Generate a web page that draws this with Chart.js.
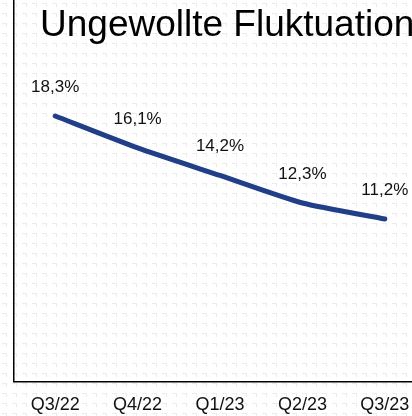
<!DOCTYPE html>
<html lang="de">
<head>
    <meta charset="UTF-8">
    <title>Ungewollte Fluktuation</title>
    <script src="https://cdn.jsdelivr.net/npm/chart.js"></script>
    <style>
        html, body { margin: 0; padding: 0; overflow: hidden; background: #fff; }
        #wrap { width: 440px; height: 416px; }
    </style>
</head>
<body>
    <div id="wrap"><canvas id="grafik"></canvas></div>

    <script>
        var quartale = ['Q3/22', 'Q4/22', 'Q1/23', 'Q2/23', 'Q3/23'];
        var fluktuation = [18.3, 16.1, 14.2, 12.3, 11.2];
        var titel = 'Ungewollte Fluktuation';

        var schrift = "'Liberation Sans', Arial, sans-serif";

        // helles Hintergrundmuster
        function muster() {
            var c = document.createElement('canvas');
            c.width = 10; c.height = 10;
            var g = c.getContext('2d');
            g.fillStyle = '#fff';
            g.fillRect(0, 0, 10, 10);
            g.fillStyle = '#ebebeb';
            g.fillRect(2, 3, 5, 1);
            g.fillRect(6, 3, 1, 4);
            return document.getElementById('grafik').getContext('2d').createPattern(c, 'repeat');
        }

        var hintergrund = {
            id: 'hintergrund',
            beforeDraw: function(chart) {
                var ctx = chart.ctx;
                ctx.save();
                ctx.fillStyle = muster();
                ctx.fillRect(0, 0, chart.width, chart.height);
                ctx.restore();
            },
            afterDraw: function(chart) {
                var ctx = chart.ctx;
                ctx.save();
                ctx.font = '37px ' + schrift;
                ctx.fillStyle = '#000';
                ctx.textAlign = 'left';
                ctx.textBaseline = 'middle';
                ctx.fillText(titel, 40, 26);
                ctx.restore();
            }
        };

        var beschriftung = {
            id: 'beschriftung',
            afterDatasetsDraw: function(chart) {
                var ctx = chart.ctx;
                var meta = chart.getDatasetMeta(0);
                ctx.save();
                ctx.font = '17px ' + schrift;
                ctx.fillStyle = '#111';
                ctx.textAlign = 'center';
                ctx.textBaseline = 'middle';
                meta.data.forEach(function(p, i) {
                    ctx.fillText(fluktuation[i].toFixed(1).replace('.', ',') + '%', p.x, p.y - 29);
                });
                ctx.restore();
            }
        };

        new Chart(document.getElementById('grafik'), {
            type: 'line',
            data: {
                labels: quartale,
                datasets: [{
                    label: titel,
                    data: fluktuation,
                    borderColor: '#213f88',
                    borderWidth: 5,
                    pointRadius: 0,
                    tension: 0.2,
                    borderCapStyle: 'round'
                }]
            },
            options: {
                responsive: true,
                maintainAspectRatio: false,
                animation: false,
                layout: { padding: { left: 14, right: 14, top: 0, bottom: -13 } },
                plugins: {
                    legend: { display: false },
                    tooltip: { enabled: false }
                },
                scales: {
                    x: {
                        offset: true,
                        grid: { display: false, drawTicks: false },
                        border: { display: true, color: '#000', width: 1.5 },
                        ticks: { color: '#111', font: { size: 18, family: schrift }, padding: 13 }
                    },
                    y: {
                        min: 0,
                        max: 26.3,
                        grid: { display: false, drawTicks: false },
                        border: { display: true, color: '#000', width: 1.5 },
                        ticks: { display: false }
                    }
                }
            },
            plugins: [hintergrund, beschriftung]
        });
    </script>
</body>
</html>
